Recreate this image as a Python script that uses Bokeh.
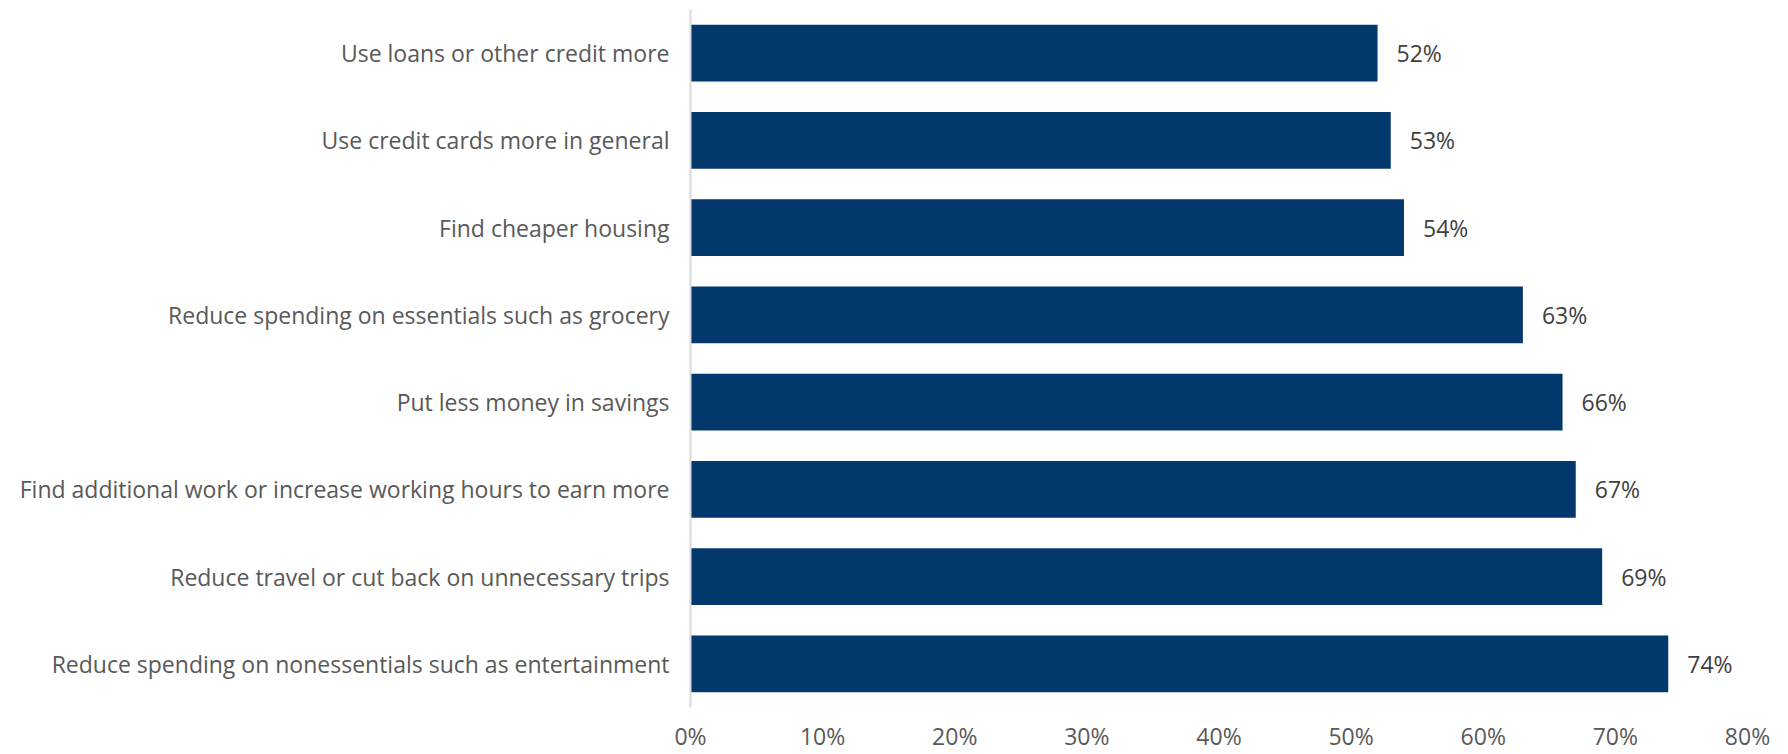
from bokeh.plotting import figure
from bokeh.models import ColumnDataSource, FactorRange, Range1d, FixedTicker, NumeralTickFormatter
from bokeh.core.properties import value
from bokeh.embed import file_html
from bokeh.resources import INLINE

categories = [
    "Use loans or other credit more",
    "Use credit cards more in general",
    "Find cheaper housing",
    "Reduce spending on essentials such as grocery",
    "Put less money in savings",
    "Find additional work or increase working hours to earn more",
    "Reduce travel or cut back on unnecessary trips",
    "Reduce spending on nonessentials such as entertainment",
]
values = [0.52, 0.53, 0.54, 0.63, 0.66, 0.67, 0.69, 0.74]
x_ticks = [0, 0.1, 0.2, 0.3, 0.4, 0.5, 0.6, 0.7, 0.8]

labels = [f"{round(v * 100)}%" for v in values]
src = ColumnDataSource(dict(cat=categories, val=values, lab=labels))

FONT = "Open Sans"
FS = "23px"

p = figure(
    width=1788, height=754,
    y_range=FactorRange(factors=list(reversed(categories))),
    x_range=Range1d(0, 0.8),
    output_backend="svg", toolbar_location=None,
    min_border_left=690, min_border_right=41, min_border_top=9, min_border_bottom=44,
)
p.outline_line_color = None
p.background_fill_color = "white"
p.border_fill_color = "white"

p.hbar(y="cat", right="val", left=0, height=0.65, source=src,
       fill_color="#02386B", line_color=None)

p.text(x="val", y="cat", text="lab", source=src, x_offset=19,
       text_baseline="middle", text_align="left",
       text_font=value(FONT), text_font_size=FS, text_color="#404040")

p.xgrid.grid_line_color = None
p.ygrid.grid_line_color = None

p.xaxis.ticker = FixedTicker(ticks=x_ticks)
p.xaxis.formatter = NumeralTickFormatter(format="0%")
p.xaxis.axis_line_color = None
p.xaxis.major_tick_line_color = None
p.xaxis.minor_tick_line_color = None
p.xaxis.major_tick_out = 0
p.xaxis.major_tick_in = 0
p.xaxis.minor_tick_out = 0
p.xaxis.major_label_text_font = FONT
p.xaxis.major_label_text_font_size = FS
p.xaxis.major_label_text_color = "#595959"
p.xaxis.major_label_standoff = 12

p.yaxis.axis_line_color = "#d9d9d9"
p.yaxis.axis_line_width = 2
p.yaxis.major_tick_line_color = None
p.yaxis.minor_tick_line_color = None
p.yaxis.major_tick_out = 0
p.yaxis.major_tick_in = 0
p.yaxis.minor_tick_out = 0
p.yaxis.major_label_text_font = FONT
p.yaxis.major_label_text_font_size = FS
p.yaxis.major_label_text_color = "#595959"
p.yaxis.major_label_standoff = 21

open("out.html", "w").write(file_html(p, INLINE))
